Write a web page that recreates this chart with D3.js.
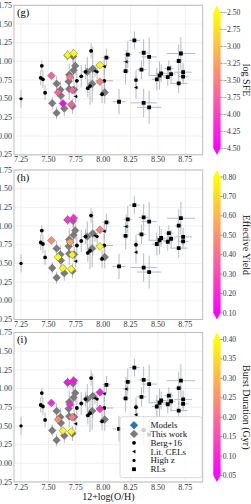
<!DOCTYPE html>
<html><head><meta charset="utf-8">
<script src="https://cdn.jsdelivr.net/npm/d3@7"></script>
<style>body{margin:0;background:#fff} svg{display:block} text{font-family:"Liberation Serif","DejaVu Serif",serif}</style>
</head><body><svg id="c" width="251" height="504"></svg>
<script>
// ---------- data ----------
const xTicks = [7.25, 7.50, 7.75, 8.00, 8.25, 8.50, 8.75];
const yTicks = [-0.25, 0.00, 0.25, 0.50, 0.75, 1.00, 1.25, 1.50, 1.75];

// Berg+16 (circles)
const bergX    = [7.44, 7.43, 7.45, 7.47, 7.76, 7.80, 7.84, 7.89, 7.86, 7.88, 8.01, 7.99, 8.30];
const bergY    = [0.94, 0.78, 0.76, 0.58, 0.74, 0.80, 0.86, 1.14, 0.64, 0.67, 0.74, 0.56, 0.75];
const bergXerr = [0.01, 0.01, 0.01, 0.01, 0.02, 0.02, 0.03, 0.02, 0.02, 0.02, 0.08, 0.03, 0.02];
const bergYerr = [0.07, 0.10, 0.12, 0.10, 0.12, 0.15, 0.10, 0.10, 0.12, 0.25, 0.15, 0.12, 0.13];

// Literature CELs (left triangles)
const litX    = [7.75, 7.925, 8.01, 8.21, 8.30];
const litY    = [0.53, 0.87, 0.93, 0.995, 0.65];
const litXerr = [0.02, 0.02, 0.02, 0.03, 0.02];
const litYerr = [0.08, 0.08, 0.10, 0.16, 0.15];

// High z (small circles)
const highzX    = [7.25, 7.945];
const highzY    = [0.50, 0.86];
const highzXerr = [0.02, 0.02];
const highzYerr = [0.12, 0.10];

// RLs (squares)
const rlX    = [8.03, 8.145, 8.205, 8.225, 8.285, 8.35, 8.37, 8.42, 8.37, 8.42, 8.49, 8.515, 8.53, 8.60, 8.59, 8.62, 8.69, 8.71, 8.73, 8.73, 8.69];
const rlY    = [1.05, 0.46, 0.87, 1.09, 1.28, 0.89, 1.115, 1.06, 0.445, 0.385, 0.76, 0.81, 0.84, 0.905, 0.79, 0.83, 1.005, 1.105, 0.855, 0.795, 0.705];
const rlXerr = [0.035, 0.06, 0.03, 0.035, 0.05, 0.045, 0.045, 0.07, 0.12, 0.11, 0.045, 0.09, 0.05, 0.04, 0.04, 0.04, 0.03, 0.13, 0.08, 0.05, 0.08];
const rlYerr = [0.12, 0.17, 0.18, 0.18, 0.12, 0.13, 0.18, 0.26, 0.19, 0.22, 0.15, 0.19, 0.12, 0.11, 0.12, 0.12, 0.22, 0.22, 0.12, 0.10, 0.13];

// This work (gray diamonds)
const thisX    = [7.535, 7.575, 7.575, 7.61, 7.615, 7.645, 7.675, 7.725, 7.685, 7.69, 7.69, 7.72, 7.73, 7.745, 7.855, 7.905, 7.90, 8.015, 7.735];
const thisY    = [0.44, 0.31, 0.70, 0.62, 0.54, 0.37, 1.08, 1.07, 0.73, 0.82, 0.63, 0.40, 0.88, 0.94, 0.86, 0.90, 0.70, 0.585, 0.62];
const thisYerr = [0.08, 0.08, 0.10, 0.12, 0.10, 0.10, 0.07, 0.10, 0.12, 0.15, 0.15, 0.10, 0.15, 0.12, 0.20, 0.30, 0.25, 0.15, 0.10];

// Models (coloured diamonds)
const modelX     = [7.527, 7.588, 7.633, 7.676, 7.731, 7.697, 7.718, 7.709, 7.971, 7.971];
const modelY     = [0.808, 0.585, 0.437, 1.085, 1.107, 0.786, 0.616, 0.424, 0.951, 0.728];
const modelSFE   = [-3.75, -3.75, -4.45, -2.5, -2.5, -3.6, -3.75, -3.75, -2.5, -3.5];
const modelYield = [0.48, 0.80, 0.80, 0.25, 0.20, 0.55, 0.76, 0.80, 0.45, 0.80];
const modelBurst = [0.10, 0.24, 0.40, 0.07, 0.07, 0.10, 0.22, 0.40, 0.08, 0.12];

const sfeTicks   = [-2.50, -2.75, -3.00, -3.25, -3.50, -3.75, -4.00, -4.25, -4.50];
const yieldTicks = [0.80, 0.70, 0.60, 0.50, 0.40, 0.30, 0.20, 0.10];
const burstTicks = [0.40, 0.35, 0.30, 0.25, 0.20, 0.15, 0.10, 0.05];

const legendLabels = ["Models", "This work", "Berg+16", "Lit. CELs", "High z", "RLs"];

// ---------- layout ----------
const svg = d3.select('#c');
const plotLeft = 14, plotRight = 202.7, panelH = 149.5;
const panelTops = [5.3, 170, 332.5];
const x = d3.scaleLinear().domain([7.186, 8.909]).range([plotLeft, plotRight]);
const spring = t => d3.rgb(255, 255 * t, 255 * (1 - t)).formatHex();
const fmtMinus = s => s.replace('-', '\u2212');

const diamond = r => `M0,${-r}L${r},0L0,${r}L${-r},0Z`;
const square = r => `M${-r},${-r}H${r}V${r}H${-r}Z`;
const triLeft = r => `M${-r},0L${r*0.8},${-r}L${r*0.8},${r}Z`;
const circle = r => d3.symbol(d3.symbolCircle, Math.PI * r * r)();

const errColor = '#aab0b8';

const panels = [
  {label: '(g)', cbLabel: 'log SFE', dom: [-4.5, -2.5], ticks: sfeTicks, vals: modelSFE, fmt: d3.format('.2f')},
  {label: '(h)', cbLabel: 'Effective Yield', dom: [0.10, 0.80], ticks: yieldTicks, vals: modelYield, fmt: d3.format('.2f')},
  {label: '(i)', cbLabel: 'Burst Duration (Gyr)', dom: [0.05, 0.40], ticks: burstTicks, vals: modelBurst, fmt: d3.format('.2f')}
];

const defs = svg.append('defs');
const grad = defs.append('linearGradient').attr('id', 'spr').attr('x1', 0).attr('y1', 1).attr('x2', 0).attr('y2', 0);
d3.range(0, 1.0001, 0.1).forEach(t => grad.append('stop').attr('offset', t).attr('stop-color', spring(t)));

panels.forEach((p, i) => {
  const top = panelTops[i], bot = top + panelH;
  const y = d3.scaleLinear().domain([-0.25, 1.75]).range([bot, top]);
  const g = svg.append('g');
  defs.append('clipPath').attr('id', 'clip' + i).append('rect')
    .attr('x', plotLeft).attr('y', top).attr('width', plotRight - plotLeft).attr('height', panelH);

  // grid
  g.selectAll('.gx').data(xTicks).join('line')
    .attr('x1', d => x(d)).attr('x2', d => x(d)).attr('y1', top).attr('y2', bot)
    .attr('stroke', '#ebebeb').attr('stroke-width', 0.8);
  g.selectAll('.gy').data(yTicks).join('line')
    .attr('y1', d => y(d)).attr('y2', d => y(d)).attr('x1', plotLeft).attr('x2', plotRight)
    .attr('stroke', '#ebebeb').attr('stroke-width', 0.8);

  // tick labels
  g.selectAll('.tx').data(xTicks).join('text')
    .attr('x', d => x(d)).attr('y', bot + 7.5).attr('text-anchor', 'middle')
    .attr('font-size', 8).attr('fill', '#333').text(d => d.toFixed(2));
  g.selectAll('.ty').data(yTicks).join('text')
    .attr('x', plotLeft - 2).attr('y', d => y(d)).attr('dy', '0.33em').attr('text-anchor', 'end')
    .attr('font-size', 8).attr('fill', '#333').text(d => fmtMinus(d.toFixed(2)));

  const pg = g.append('g').attr('clip-path', `url(#clip${i})`);

  // error bars helper
  function errs(xs, ys, xe, ye) {
    const eg = pg.append('g').attr('stroke', errColor).attr('stroke-width', 1).attr('opacity', 0.85);
    xs.forEach((xv, k) => {
      if (xe && xe[k]) eg.append('line').attr('x1', x(xv - xe[k])).attr('x2', x(xv + xe[k])).attr('y1', y(ys[k])).attr('y2', y(ys[k]));
      if (ye && ye[k]) eg.append('line').attr('x1', x(xv)).attr('x2', x(xv)).attr('y1', y(ys[k] - ye[k])).attr('y2', y(ys[k] + ye[k]));
    });
  }
  errs(bergX, bergY, bergXerr, bergYerr);
  errs(litX, litY, litXerr, litYerr);
  errs(highzX, highzY, highzXerr, highzYerr);
  errs(rlX, rlY, rlXerr, rlYerr);
  errs(thisX, thisY, null, thisYerr);

  function marks(xs, ys, path, fill, stroke, sw) {
    pg.append('g').selectAll('path').data(xs).join('path')
      .attr('transform', (d, k) => `translate(${x(d)},${y(ys[k])})`)
      .attr('d', path).attr('fill', fill).attr('stroke', stroke).attr('stroke-width', sw);
  }
  marks(thisX, thisY, diamond(3.8), '#7b7b7b', '#6a6a6a', 0.5);
  marks(bergX, bergY, circle(1.9), '#000', 'none', 0);
  marks(litX, litY, triLeft(1.8), '#000', 'none', 0);
  marks(highzX, highzY, circle(1.6), '#000', 'none', 0);
  marks(rlX, rlY, square(1.9), '#000', 'none', 0);

  const cs = d3.scaleLinear().domain(p.dom).range([0, 1]).clamp(true);
  pg.append('g').selectAll('path').data(modelX).join('path')
    .attr('transform', (d, k) => `translate(${x(d)},${y(modelY[k])})`)
    .attr('d', diamond(3.9)).attr('fill', (d, k) => spring(cs(p.vals[k])))
    .attr('stroke', '#666').attr('stroke-width', 0.5);

  // frame
  g.append('rect').attr('x', plotLeft).attr('y', top).attr('width', plotRight - plotLeft).attr('height', panelH)
    .attr('fill', 'none').attr('stroke', '#bdbdbd').attr('stroke-width', 1);

  // panel label
  g.append('text').attr('x', plotLeft + 3).attr('y', top + 10.5).attr('font-size', 10.5).attr('fill', '#000').text(p.label);

  // colorbar
  const cbX = 213.3, cbW = 7.3, cbTop = top + 7, cbBot = bot - 6.5;
  const cy = d3.scaleLinear().domain(p.dom).range([cbBot, cbTop]);
  g.append('rect').attr('x', cbX).attr('y', cbTop).attr('width', cbW).attr('height', cbBot - cbTop).attr('fill', 'url(#spr)');
  g.append('path').attr('d', `M${cbX},${cbTop + 0.3}L${cbX + cbW / 2},${top}L${cbX + cbW},${cbTop + 0.3}Z`).attr('fill', spring(1));
  g.append('path').attr('d', `M${cbX},${cbBot - 0.3}L${cbX + cbW / 2},${bot}L${cbX + cbW},${cbBot - 0.3}Z`).attr('fill', spring(0));
  const tg = g.append('g');
  tg.selectAll('line').data(p.ticks).join('line')
    .attr('x1', cbX + cbW).attr('x2', cbX + cbW + 1.8).attr('y1', d => cy(d)).attr('y2', d => cy(d))
    .attr('stroke', '#333').attr('stroke-width', 0.6);
  tg.selectAll('text').data(p.ticks).join('text')
    .attr('x', cbX + cbW + 2.2).attr('y', d => cy(d)).attr('dy', '0.33em')
    .attr('font-size', 7.6).attr('fill', '#333').text(d => fmtMinus(p.fmt(d)));
  g.append('text').attr('transform', `translate(242.5,${(top + bot) / 2}) rotate(90)`)
    .attr('text-anchor', 'middle').attr('font-size', 10).attr('fill', '#111').text(p.cbLabel);

  if (i === 2) {
    // x axis label
    g.append('text').attr('x', (plotLeft + plotRight) / 2).attr('y', bot + 18.3).attr('text-anchor', 'middle')
      .attr('font-size', 10).attr('fill', '#111').text('12+log(O/H)');
    // legend
    const lx = 120, ly = 416.7, lw = 82, lh = 61;
    const lg = g.append('g');
    lg.append('rect').attr('x', lx).attr('y', ly).attr('width', lw).attr('height', lh).attr('rx', 2.5)
      .attr('fill', '#fff').attr('fill-opacity', 0.8).attr('stroke', '#d0d0d0').attr('stroke-width', 0.8);
    const shapes = [
      {d: diamond(3.8), f: '#1f77b4', s: '#2b5d86'},
      {d: diamond(3.8), f: '#7b7b7b', s: '#6a6a6a'},
      {d: circle(1.9), f: '#000', s: 'none'},
      {d: triLeft(1.8), f: '#000', s: 'none'},
      {d: circle(1.6), f: '#000', s: 'none'},
      {d: square(1.9), f: '#000', s: 'none'}
    ];
    legendLabels.forEach((lab, k) => {
      const yy = ly + 8.5 + k * 8.8;
      lg.append('path').attr('transform', `translate(${lx + 14},${yy})`).attr('d', shapes[k].d)
        .attr('fill', shapes[k].f).attr('stroke', shapes[k].s).attr('stroke-width', 0.5);
      lg.append('text').attr('x', lx + 30.5).attr('y', yy).attr('dy', '0.33em').attr('font-size', 9)
        .attr('fill', '#111').text(lab);
    });
  }
});
</script></body></html>
